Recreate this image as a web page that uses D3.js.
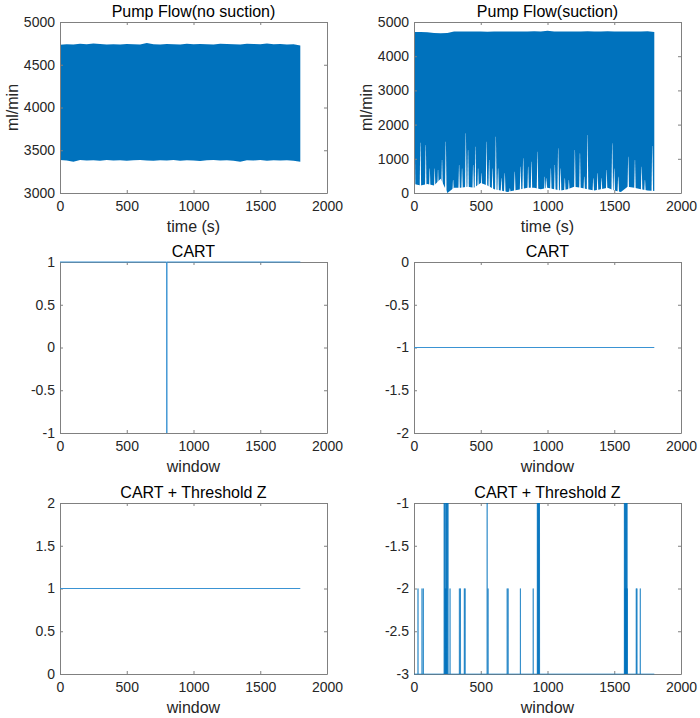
<!DOCTYPE html>
<html>
<head>
<meta charset="utf-8">
<script src="https://cdn.jsdelivr.net/npm/d3@7"></script>
<style>
  body { margin: 0; background: #fff; }
  text { font-family: "Liberation Sans", Arial, Helvetica, sans-serif; }
</style>
</head>
<body>
<svg id="chart" width="700" height="718"></svg>
<script>
// ---- data ----
const xTicks = [0, 500, 1000, 1500, 2000];

// envelope sample times (s)
const envTime = [0, 50, 100, 150, 200, 250, 300, 350, 400, 450, 500, 550, 600, 650, 700, 750, 800, 850, 900,
  950, 1000, 1050, 1100, 1150, 1200, 1250, 1300, 1350, 1400, 1450, 1500, 1550, 1600, 1650, 1700, 1750, 1800];

// pump flow, no suction: upper / lower envelope (ml/min)
const noSucUpper = [4735, 4740, 4738, 4745, 4740, 4750, 4742, 4738, 4740, 4736, 4742, 4740, 4738, 4755, 4740, 4738, 4742, 4740, 4738,
  4745, 4740, 4742, 4740, 4738, 4745, 4742, 4740, 4738, 4745, 4742, 4740, 4748, 4740, 4742, 4738, 4740, 4725];
const noSucLower = [3385, 3380, 3365, 3385, 3380, 3382, 3378, 3385, 3380, 3382, 3378, 3382, 3385, 3380, 3378, 3382, 3380, 3385, 3378,
  3382, 3380, 3375, 3382, 3385, 3380, 3382, 3378, 3365, 3382, 3380, 3385, 3378, 3382, 3380, 3382, 3378, 3365];

// pump flow, suction: upper envelope and low floor (ml/min)
const sucUpper = [4705, 4710, 4700, 4680, 4670, 4680, 4720, 4725, 4720, 4725, 4720, 4715, 4720, 4725, 4720, 4725, 4720, 4725, 4730,
  4725, 4745, 4725, 4720, 4725, 4720, 4725, 4730, 4720, 4725, 4730, 4720, 4725, 4720, 4725, 4720, 4730, 4705];
const sucFloor = [260, 220, 260, 220, 420, 0, 150, 150, 180, 150, 290, 220, 110, 70, 30, 70, 110, 150, 150,
  110, 150, 110, 70, 110, 180, 150, 110, 70, 110, 150, 70, 30, 180, 150, 110, 70, 60];

// white gaps reaching up from the bottom in the suction trace
const sucGapTime = [5, 48, 88, 118, 155, 180, 210, 238, 293, 338, 360, 388, 405, 443, 460, 480, 505, 543, 563, 588, 613, 630,
  655, 680, 718, 755, 798, 818, 855, 880, 925, 980, 993, 1025, 1055, 1080, 1098, 1130, 1160, 1205, 1243, 1275, 1300,
  1343, 1375, 1405, 1443, 1485, 1500, 1530, 1605, 1655, 1705, 1730, 1785];
const sucGapTop = [1500, 1470, 1400, 720, 720, 670, 965, 1500, 380, 820, 720, 1745, 1257, 820, 1355, 720, 575, 1500, 965, 720, 1647, 720,
  430, 575, 136, 624, 770, 1014, 770, 916, 1208, 477, 430, 720, 820, 1305, 720, 430, 380, 1257, 1160, 477, 1696,
  430, 575, 430, 672, 1452, 720, 477, 1062, 965, 770, 380, 1374];

// CART, no suction
const cartNoWin = [0, 799, 800, 801, 1800];
const cartNoVal = [1, 1, -1, 1, 1];
// CART, suction
const cartSucWin = [0, 1800];
const cartSucVal = [-1, -1];
// CART + Threshold Z, no suction
const czNoWin = [0, 1800];
const czNoVal = [1, 1];
// CART + Threshold Z, suction: baseline -3 with single-window jumps
const czBase = -3;
const czSpikeWin = [30, 60, 70, 226, 230, 234, 238, 240, 242, 246, 250, 255, 270, 340, 348, 377, 383,
  548, 555, 698, 705, 797, 893, 924, 928, 932, 936, 940,
  1576, 1580, 1582, 1584, 1588, 1590, 1592, 1596, 1598, 1665, 1670, 1695];
const czSpikeVal = [-2, -2, -2, -1, -1, -2, -1, -2, -1, -1, -1, -1, -2, -2, -2, -2, -2,
  -1, -2, -2, -2, -2, -2, -1, -1, -1, -1, -1,
  -1, -1, -2, -1, -1, -2, -1, -1, -2, -2, -2, -2];

const panels = [
  {col: 0, row: 0, title: "Pump Flow(no suction)", xlabel: "time (s)", ylabel: "ml/min", yDomain: [3000, 5000], yTicks: [3000, 3500, 4000, 4500, 5000]},
  {col: 1, row: 0, title: "Pump Flow(suction)", xlabel: "time (s)", ylabel: "ml/min", yDomain: [0, 5000], yTicks: [0, 1000, 2000, 3000, 4000, 5000]},
  {col: 0, row: 1, title: "CART", xlabel: "window", yDomain: [-1, 1], yTicks: [-1, -0.5, 0, 0.5, 1]},
  {col: 1, row: 1, title: "CART", xlabel: "window", yDomain: [-2, 0], yTicks: [-2, -1.5, -1, -0.5, 0]},
  {col: 0, row: 2, title: "CART + Threshold Z", xlabel: "window", yDomain: [0, 2], yTicks: [0, 0.5, 1, 1.5, 2]},
  {col: 1, row: 2, title: "CART + Threshold Z", xlabel: "window", yDomain: [-3, -1], yTicks: [-3, -2.5, -2, -1.5, -1]}
];

// ---- layout ----
const colLeft = [60, 414];
const rowTop = [22, 262, 503];
const pw = 267, ph = 171;
const blue = "#0072BD";
const thinBlue = "#3a93d3";
const axisGray = "#808080";
const textCol = "#262626";

const svg = d3.select("#chart");

function drawPanel(p, i) {
  const g = svg.append("g").attr("transform", `translate(${colLeft[p.col]},${rowTop[p.row]})`);
  const x = d3.scaleLinear().domain([0, 2000]).range([0, pw]);
  const y = d3.scaleLinear().domain(p.yDomain).range([ph, 0]);

  g.append("clipPath").attr("id", "clip" + i)
    .append("rect").attr("width", pw).attr("height", ph);

  const fmt = d => String(d);
  const axes = [
    g.append("g").attr("transform", `translate(0,${ph})`)
      .call(d3.axisBottom(x).tickValues(xTicks).tickFormat(fmt).tickSizeInner(-3).tickSizeOuter(0).tickPadding(8)),
    g.append("g")
      .call(d3.axisLeft(y).tickValues(p.yTicks).tickFormat(fmt).tickSizeInner(-3).tickSizeOuter(0).tickPadding(5)),
    g.append("g")
      .call(d3.axisTop(x).tickValues(xTicks).tickFormat("").tickSizeInner(-3).tickSizeOuter(0)),
    g.append("g").attr("transform", `translate(${pw},0)`)
      .call(d3.axisRight(y).tickValues(p.yTicks).tickFormat("").tickSizeInner(-3).tickSizeOuter(0))
  ];
  axes.forEach(a => {
    a.select(".domain").attr("stroke", axisGray);
    a.selectAll(".tick line").attr("stroke", axisGray);
    a.selectAll(".tick text").attr("fill", textCol).style("font-size", "14px");
  });

  g.append("text").attr("x", pw / 2).attr("y", -5)
    .attr("text-anchor", "middle").attr("fill", "#000").style("font-size", "16px").text(p.title);
  g.append("text").attr("x", pw / 2).attr("y", ph + 39)
    .attr("text-anchor", "middle").attr("fill", textCol).style("font-size", "16px").text(p.xlabel);
  if (p.ylabel) {
    g.append("text").attr("transform", `translate(-42,${ph / 2}) rotate(-90)`)
      .attr("text-anchor", "middle").attr("fill", textCol).style("font-size", "16px").text(p.ylabel);
  }
  return {g, x, y};
}

const P = panels.map(drawPanel);

// Pump flow, no suction
{
  const {g, x, y} = P[0];
  const area = d3.area().x((d, i) => x(envTime[i])).y0((d, i) => y(noSucLower[i])).y1((d, i) => y(noSucUpper[i]));
  g.insert("path", ":first-child").attr("d", area(envTime)).attr("fill", blue).attr("clip-path", "url(#clip0)");
}

// Pump flow, suction
{
  const {g, x, y} = P[1];
  const data = g.insert("g", ":first-child").attr("clip-path", "url(#clip1)");
  const area = d3.area().x((d, i) => x(envTime[i])).y0((d, i) => y(sucFloor[i])).y1((d, i) => y(sucUpper[i]));
  data.append("path").attr("d", area(envTime)).attr("fill", blue);
  data.selectAll("path.gap").data(sucGapTime).join("path").attr("class", "gap")
    .attr("d", (t, i) => {
      const top = y(sucGapTop[i]), base = y(0);
      return `M${x(t - 6)},${base}L${x(t - 1)},${top}L${x(t + 1)},${top}L${x(t + 6)},${base}Z`;
    })
    .attr("fill", "#fff");
}

// simple line series
const line = (x, y, win, val) => d3.line().x((d, i) => x(win[i])).y((d, i) => y(val[i]))(win);
[[2, cartNoWin, cartNoVal], [3, cartSucWin, cartSucVal], [4, czNoWin, czNoVal]].forEach(([k, win, val]) => {
  const {g, x, y} = P[k];
  g.append("path").attr("d", line(x, y, win, val)).attr("fill", "none").attr("stroke", thinBlue).attr("stroke-width", 1);
});

// CART + Threshold Z, suction: each jump lasts one window
{
  const {g, x, y} = P[5];
  const pts = [[0, czBase]];
  czSpikeWin.forEach((w, i) => {
    pts.push([w - 1, czBase], [w, czSpikeVal[i]], [w + 1, czBase]);
  });
  pts.push([1800, czBase]);
  g.append("path").attr("d", d3.line().x(d => x(d[0])).y(d => y(d[1]))(pts))
    .attr("fill", "none").attr("stroke", blue).attr("stroke-width", 0.8).attr("stroke-opacity", 0.75);
}
</script>
</body>
</html>
